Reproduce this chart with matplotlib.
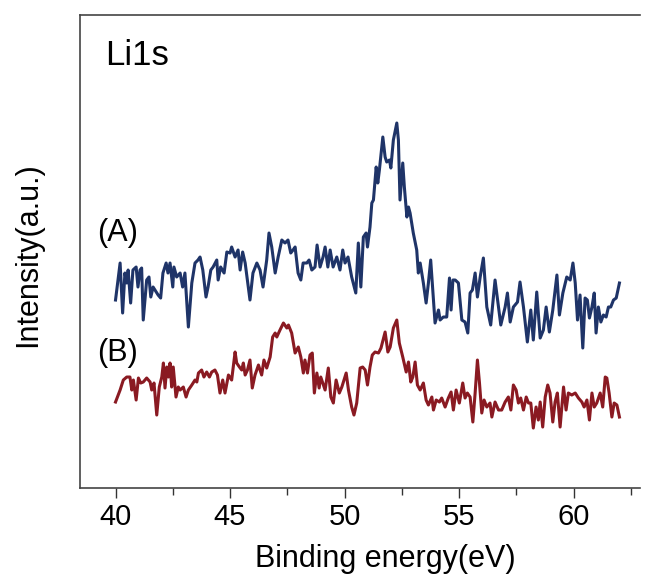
"""Li1s XPS spectra, samples (A) and (B)."""

import matplotlib

matplotlib.use("Agg")
import matplotlib.pyplot as plt  # noqa: E402

plt.rcParams["font.family"] = ["Liberation Sans", "DejaVu Sans"]

# binding energy (eV) / intensity (a.u.)
energy_a = [40.00, 40.20, 40.31, 40.41, 40.49, 40.55, 40.66, 40.76, 40.90, 40.98, 41.07, 41.14, 41.21,
            41.36, 41.46, 41.54, 41.64, 41.86, 41.97, 42.07, 42.21, 42.29, 42.38, 42.50, 42.55, 42.67,
            42.82, 42.93, 43.03, 43.18, 43.33, 43.47, 43.60, 43.69, 43.81, 43.95, 44.04, 44.16, 44.26,
            44.42, 44.48, 44.59, 44.74, 44.86, 45.00, 45.07, 45.22, 45.35, 45.44, 45.55, 45.66, 45.87,
            46.00, 46.17, 46.31, 46.44, 46.60, 46.70, 46.82, 46.97, 47.10, 47.26, 47.40, 47.53, 47.65,
            47.75, 47.84, 47.97, 48.09, 48.19, 48.35, 48.45, 48.57, 48.71, 48.80, 48.93, 49.06, 49.15,
            49.27, 49.37, 49.50, 49.66, 49.80, 49.92, 50.02, 50.15, 50.31, 50.49, 50.60, 50.71, 50.82,
            50.94, 51.00, 51.11, 51.19, 51.26, 51.38, 51.45, 51.52, 51.67, 51.77, 51.84, 51.96, 52.02,
            52.13, 52.28, 52.35, 52.42, 52.54, 52.61, 52.72, 52.79, 52.86, 53.00, 53.15, 53.22, 53.30,
            53.44, 53.56, 53.66, 53.76, 53.85, 53.95, 54.10, 54.17, 54.31, 54.46, 54.58, 54.65, 54.73,
            54.83, 54.97, 55.12, 55.26, 55.38, 55.48, 55.58, 55.70, 55.80, 55.92, 56.06, 56.21, 56.38,
            56.57, 56.72, 56.82, 57.01, 57.11, 57.23, 57.37, 57.55, 57.66, 57.81, 57.98, 58.13, 58.24,
            58.39, 58.54, 58.68, 58.80, 58.94, 59.09, 59.27, 59.38, 59.53, 59.70, 59.85, 59.97, 60.07,
            60.17, 60.28, 60.40, 60.50, 60.60, 60.69, 60.80, 60.90, 60.98, 61.08, 61.19, 61.30, 61.42,
            61.52, 61.62, 61.74, 61.86, 62.00]
intensity_a = [188, 225, 175, 215, 205, 218, 185, 218, 221, 201, 218, 220, 168,
               208, 211, 191, 201, 193, 190, 215, 225, 215, 225, 201, 221, 211,
               215, 201, 215, 161, 205, 225, 228, 231, 218, 191, 201, 218, 221,
               228, 208, 221, 215, 236, 235, 241, 231, 238, 218, 236, 225, 188,
               215, 225, 218, 201, 228, 255, 241, 215, 231, 248, 245, 248, 235,
               238, 241, 215, 208, 225, 225, 228, 218, 221, 243, 221, 231, 241,
               221, 238, 221, 231, 218, 238, 225, 231, 211, 195, 245, 201, 251,
               255, 241, 261, 285, 288, 321, 305, 318, 351, 331, 326, 328, 320,
               348, 365, 348, 288, 325, 301, 271, 281, 275, 255, 238, 215, 225,
               205, 185, 205, 228, 198, 165, 178, 168, 171, 171, 210, 178, 208,
               208, 205, 168, 166, 155, 195, 198, 215, 191, 211, 230, 181, 163,
               208, 181, 163, 181, 195, 166, 181, 186, 206, 181, 146, 178, 148,
               196, 150, 158, 181, 156, 178, 213, 173, 195, 211, 208, 225, 205,
               168, 193, 140, 190, 188, 170, 181, 195, 155, 181, 166, 173, 171,
               181, 181, 188, 190, 205]

energy_b = [40.00, 40.20, 40.34, 40.49, 40.63, 40.71, 40.78, 40.90, 41.00, 41.10, 41.21, 41.36, 41.51,
            41.58, 41.68, 41.80, 41.91, 42.02, 42.09, 42.16, 42.24, 42.31, 42.38, 42.45, 42.52, 42.64,
            42.74, 42.82, 42.96, 43.08, 43.18, 43.33, 43.47, 43.55, 43.62, 43.76, 43.86, 43.98, 44.10,
            44.20, 44.34, 44.45, 44.56, 44.68, 44.78, 44.93, 45.07, 45.22, 45.29, 45.41, 45.51, 45.58,
            45.66, 45.76, 45.87, 45.97, 46.09, 46.24, 46.38, 46.48, 46.60, 46.75, 46.86, 46.97, 47.04,
            47.18, 47.33, 47.48, 47.55, 47.69, 47.84, 47.98, 48.09, 48.20, 48.27, 48.38, 48.49, 48.59,
            48.68, 48.79, 48.89, 48.96, 49.05, 49.15, 49.29, 49.40, 49.51, 49.63, 49.77, 49.88, 50.07,
            50.17, 50.31, 50.41, 50.53, 50.68, 50.79, 50.90, 51.00, 51.11, 51.21, 51.33, 51.48, 51.59,
            51.77, 51.89, 51.99, 52.13, 52.28, 52.39, 52.54, 52.69, 52.79, 52.89, 52.98, 53.08, 53.18,
            53.30, 53.44, 53.56, 53.66, 53.81, 53.88, 54.00, 54.14, 54.24, 54.39, 54.53, 54.65, 54.75,
            54.87, 55.01, 55.16, 55.26, 55.36, 55.48, 55.60, 55.70, 55.80, 55.89, 55.99, 56.09, 56.21,
            56.35, 56.43, 56.57, 56.72, 56.86, 57.01, 57.15, 57.26, 57.37, 57.49, 57.59, 57.69, 57.81,
            57.93, 58.03, 58.13, 58.24, 58.36, 58.46, 58.54, 58.65, 58.76, 58.87, 58.97, 59.09, 59.19,
            59.29, 59.41, 59.56, 59.67, 59.77, 59.92, 60.07, 60.21, 60.36, 60.46, 60.58, 60.69, 60.80,
            60.90, 61.01, 61.16, 61.27, 61.38, 61.45, 61.55, 61.67, 61.77, 61.89, 62.00]
intensity_b = [86, 98, 108, 111, 111, 98, 108, 88, 110, 105, 106, 110, 106,
               98, 105, 73, 101, 111, 125, 100, 121, 111, 125, 101, 121, 91,
               101, 98, 101, 91, 98, 103, 108, 106, 115, 118, 111, 116, 111,
               116, 118, 113, 95, 108, 95, 113, 108, 136, 125, 121, 118, 125,
               113, 118, 128, 100, 113, 123, 113, 128, 120, 131, 151, 155, 151,
               158, 165, 160, 163, 155, 135, 141, 131, 115, 128, 115, 133, 135,
               95, 115, 100, 111, 105, 98, 120, 91, 85, 108, 95, 101, 115,
               98, 81, 73, 85, 120, 121, 118, 103, 121, 133, 136, 135, 140,
               156, 136, 141, 160, 168, 145, 131, 116, 126, 106, 111, 126, 103,
               98, 105, 88, 83, 91, 78, 88, 86, 90, 81, 90, 96, 78,
               98, 85, 105, 90, 95, 91, 66, 95, 128, 105, 75, 88, 81,
               85, 71, 86, 78, 78, 86, 91, 78, 103, 98, 85, 90, 78,
               91, 85, 85, 60, 81, 68, 86, 61, 91, 103, 95, 66, 86,
               95, 61, 101, 78, 95, 93, 95, 90, 86, 81, 88, 68, 95,
               81, 85, 95, 81, 111, 110, 95, 71, 85, 83, 71]

xticks = [40, 45, 50, 55, 60]

fig = plt.figure(figsize=(6.57, 5.77), dpi=100)
ax = fig.add_axes([0.1218, 0.1542, 0.8524, 0.8198])
ax.plot(energy_a, intensity_a, color="#1f3468", lw=2.2)
ax.plot(energy_b, intensity_b, color="#8a1a22", lw=2.2)

ax.set_xlim(38.45, 62.9)
ax.set_ylim(0, 473)
ax.set_xticks(xticks)
ax.set_xticks([42.5, 47.5, 52.5, 57.5, 62.5], minor=True)
ax.set_yticks([])
ax.tick_params(axis="x", which="major", length=7, width=1.0, labelsize=21, pad=4, color="#333")
ax.tick_params(axis="x", which="minor", length=5, width=1.0, color="#333")
ax.spines["right"].set_visible(False)
for s in ("left", "top", "bottom"):
    ax.spines[s].set_color("#444")
    ax.spines[s].set_linewidth(1.2)

ax.set_xlabel("Binding energy(eV)", fontsize=22)
ax.xaxis.set_label_coords(0.545, -0.118)
ax.set_ylabel("Intensity(a.u.)", fontsize=22)
ax.yaxis.set_label_coords(-0.065, 0.4926)

ax.text(0.045, 0.915, "Li1s", transform=ax.transAxes, fontsize=25, va="center", ha="left")
ax.text(0.030, 0.54, "(A)", transform=ax.transAxes, fontsize=22, va="center", ha="left")
ax.text(0.030, 0.285, "(B)", transform=ax.transAxes, fontsize=22, va="center", ha="left")

fig.savefig("out.png", dpi=100)
